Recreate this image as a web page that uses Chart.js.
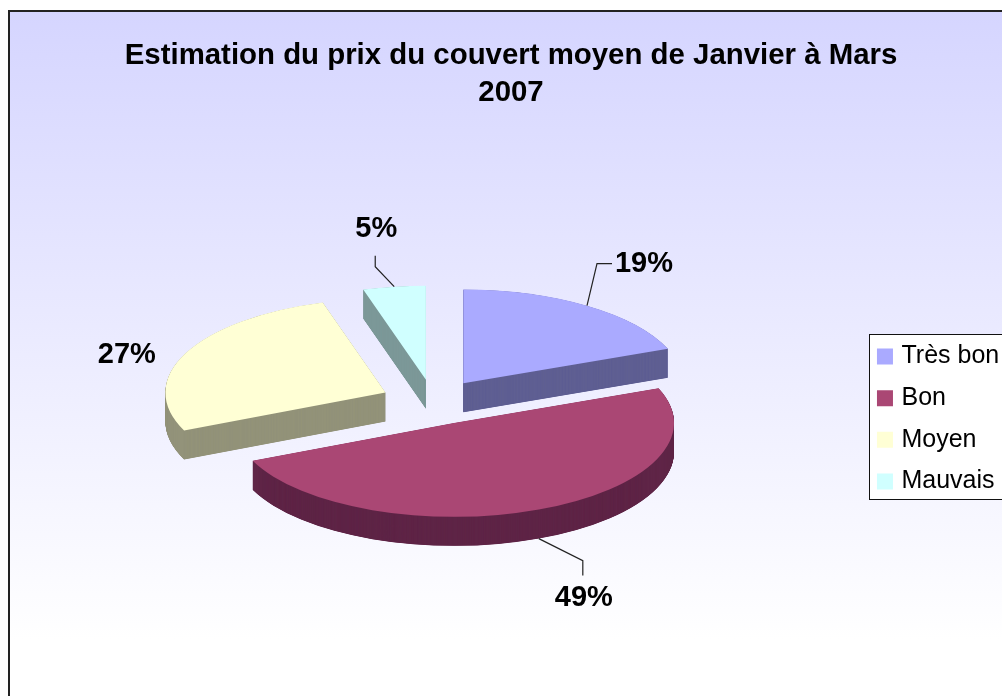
<!DOCTYPE html>
<html>
<head>
<meta charset="utf-8">
<title>Estimation du prix du couvert moyen</title>
<script src="https://cdn.jsdelivr.net/npm/chart.js@4"></script>
<style>
    html, body { margin: 0; padding: 0; background: #fff; overflow: hidden; }
    canvas { display: block; }
</style>
</head>
<body>
<canvas id="pie" width="1002" height="696"></canvas>
<script>
const categories = ['Très bon', 'Bon', 'Moyen', 'Mauvais'];
const shares = [19, 49.4, 27, 4.6];
const titleLines = ['Estimation du prix du couvert moyen de Janvier à Mars', '2007'];

const topColors = ['#aaaaff', '#aa4774', '#ffffd5', '#d0ffff'];
const sideColors = ['#5f5f93', '#5f2547', '#93937a', '#7c9898'];

const FONT = '"Liberation Sans", Arial, sans-serif';
const SQUASH = 0.427;   // flattens the circle into the tilted 3D ellipse
const DEPTH = 29;       // thickness of the slices in px
const EXPLODE = 53;     // how far each slice is pulled out

// label placement relative to the rim of each slice: optional leader knee points, then the text
const labelLayout = [
    { leader: [[10, -42], [25, -42]], text: [57, -42] },
    { leader: [[44, 22], [44, 37]], text: [45, 59] },
    { leader: [], text: [-59, 2] },
    { leader: [[-19, -20], [-19, -31]], text: [-18, -58] }
];

// Chart.js "offset" also grows the radius, so the slices are moved apart here instead
let pivotY = 0;

function squashed(ctx, dy) {
    ctx.translate(0, pivotY + dy);
    ctx.scale(1, SQUASH);
    ctx.translate(0, -pivotY);
}

const pie3d = {
    id: 'pie3d',
    afterLayout(chart) {
        // title is centred on the frame, legend box sits against the right edge
        chart.titleBlock.left = 20;
        chart.titleBlock.right = 1002;
        const legend = chart.legend;
        const w = legend.width, h = legend.height;
        legend.left = 864.3;
        legend.right = legend.left + w;
        legend.top = 327.3;
        legend.bottom = legend.top + h;
    },
    afterDatasetsUpdate(chart) {
        pivotY = (chart.chartArea.top + chart.chartArea.bottom) / 2;
        chart.getDatasetMeta(0).data.forEach(arc => {
            const mid = (arc.startAngle + arc.endAngle) / 2;
            arc.x += Math.cos(mid) * EXPLODE;
            arc.y += Math.sin(mid) * EXPLODE;
        });
    },
    beforeDraw(chart) {
        const ctx = chart.ctx;
        const grad = ctx.createLinearGradient(0, 11, 0, 640);
        grad.addColorStop(0, '#d5d5ff');
        grad.addColorStop(1, '#ffffff');
        ctx.save();
        ctx.fillStyle = grad;
        ctx.fillRect(9, 11, 1100, 800);
        ctx.strokeStyle = '#222';
        ctx.lineWidth = 2;
        ctx.strokeRect(9, 11, 1100, 800);
        // legend box
        ctx.fillStyle = '#fff';
        ctx.fillRect(869.5, 334.5, 200, 165);
        ctx.strokeStyle = '#111';
        ctx.lineWidth = 1;
        ctx.strokeRect(869.5, 334.5, 200, 165);
        ctx.restore();
    },
    beforeDatasetsDraw(chart) {
        const ctx = chart.ctx;
        const arcs = chart.getDatasetMeta(0).data;
        // extrude: stack darker copies of every slice below its top face
        arcs.forEach((arc, i) => {
            const saved = arc.options;
            arc.options = Object.assign({}, saved, { backgroundColor: sideColors[i], borderWidth: 0 });
            for (let d = DEPTH; d > 0; d -= 0.25) {
                ctx.save();
                squashed(ctx, d);
                arc.draw(ctx);
                ctx.restore();
            }
            arc.options = saved;
        });
        ctx.save();
        squashed(ctx, 0);
    },
    afterDatasetsDraw(chart) {
        chart.ctx.restore();
    },
    afterDraw(chart) {
        const ctx = chart.ctx;
        const arcs = chart.getDatasetMeta(0).data;
        ctx.save();
        ctx.font = 'bold 29px ' + FONT;
        ctx.textAlign = 'center';
        ctx.textBaseline = 'middle';
        arcs.forEach((arc, i) => {
            const mid = (arc.startAngle + arc.endAngle) / 2;
            const rimX = arc.x + Math.cos(mid) * arc.outerRadius;
            let rimY = pivotY + (arc.y + Math.sin(mid) * arc.outerRadius - pivotY) * SQUASH;
            if (Math.sin(mid) > 0) rimY += DEPTH;
            const spot = labelLayout[i];
            if (spot.leader.length) {
                ctx.beginPath();
                ctx.moveTo(rimX, rimY);
                spot.leader.forEach(p => ctx.lineTo(rimX + p[0], rimY + p[1]));
                ctx.strokeStyle = '#222';
                ctx.lineWidth = 1.2;
                ctx.stroke();
            }
            ctx.fillStyle = '#000';
            ctx.fillText(Math.round(shares[i]) + '%', rimX + spot.text[0], rimY + spot.text[1]);
        });
        ctx.restore();
    }
};

new Chart(document.getElementById('pie'), {
    type: 'pie',
    data: {
        labels: categories,
        datasets: [{
            data: shares,
            backgroundColor: topColors,
            borderWidth: 0,
            radius: 220,
            clip: false
        }]
    },
    options: {
        responsive: false,
        animation: false,
        layout: { padding: { left: 10, bottom: 3 } },
        plugins: {
            title: {
                display: true,
                text: titleLines,
                color: '#000',
                font: { family: FONT, size: 29.4, weight: 'bold', lineHeight: 1.26 },
                padding: { top: 37, bottom: 0 }
            },
            legend: {
                position: 'right',
                align: 'start',
                labels: {
                    color: '#000',
                    font: { family: FONT, size: 25 },
                    boxWidth: 8,
                    boxHeight: 8,
                    padding: 16.67,
                    generateLabels(chart) {
                        return categories.map((name, i) => ({
                            text: name,
                            fillStyle: topColors[i],
                            strokeStyle: topColors[i],
                            lineWidth: 8,
                            index: i
                        }));
                    }
                }
            },
            tooltip: { enabled: false }
        }
    },
    plugins: [pie3d]
});
</script>
</body>
</html>
